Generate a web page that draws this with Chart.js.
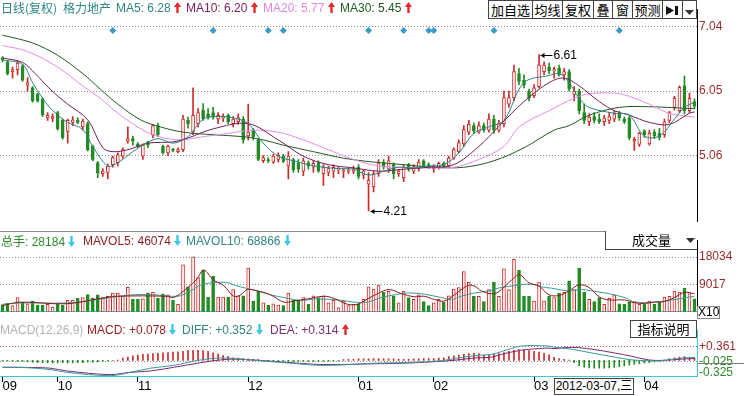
<!DOCTYPE html>
<html>
<head>
<meta charset="utf-8">
<script src="https://cdn.jsdelivr.net/npm/chart.js@4.4.1/dist/chart.umd.min.js"></script>
<style>
  body { margin: 0; width: 744px; height: 396px; position: relative; overflow: hidden; background: #fff;
         font-family: "Liberation Sans", Arial, "Noto Sans CJK SC", sans-serif; }
  canvas { position: absolute; left: 0; }
  .t { position: absolute; white-space: nowrap; font-size: 12px; line-height: 16px; }
  .cjk { font-family: "Noto Sans CJK SC", sans-serif; }
  .box { position: absolute; box-sizing: border-box; border: 1px solid #444; background: #fff;
         font-family: "Noto Sans CJK SC", sans-serif; font-size: 13px; text-align: center; color: #000; }
  .line { position: absolute; }
  svg { vertical-align: -1px; }
</style>
</head>
<body>
<canvas id="priceChart" width="744" height="231" style="top:0"></canvas>
<canvas id="volChart" width="744" height="90" style="top:231px"></canvas>
<canvas id="macdChart" width="744" height="75" style="top:321px"></canvas>

<!-- separators -->
<div class="line" style="left:0;top:231px;width:697px;height:1px;background:#8a8a8a"></div>
<div class="line" style="left:697px;top:363px;width:47px;height:1px;background:#777"></div>

<!-- main header -->
<div class="t" style="left:1px;top:0;color:#2f8585"><span class="cjk">日线(复权)</span></div>
<div class="t cjk" style="left:63px;top:0;color:#2f8585">格力地产</div>
<div class="t" style="left:116px;top:0;color:#2f8585">MA5: 6.28 <svg width="7" height="11"><path d="M3.5 0L7 5H4.7V11H2.3V5H0Z" fill="#e8262b"/></svg></div>
<div class="t" style="left:186px;top:0;color:#7a2060">MA10: 6.20 <svg width="7" height="11"><path d="M3.5 0L7 5H4.7V11H2.3V5H0Z" fill="#e8262b"/></svg></div>
<div class="t" style="left:263px;top:0;color:#e088e0">MA20: 5.77 <svg width="7" height="11"><path d="M3.5 0L7 5H4.7V11H2.3V5H0Z" fill="#e8262b"/></svg></div>
<div class="t" style="left:340px;top:0;color:#1f5a1f">MA30: 5.45 <svg width="7" height="11"><path d="M3.5 0L7 5H4.7V11H2.3V5H0Z" fill="#e8262b"/></svg></div>

<!-- toolbar -->
<div class="box" style="left:488px;top:0;width:45px;height:19px;line-height:17px">加自选</div>
<div class="box" style="left:532px;top:0;width:31px;height:19px;line-height:17px">均线</div>
<div class="box" style="left:562px;top:0;width:32px;height:19px;line-height:17px">复权</div>
<div class="box" style="left:593px;top:0;width:20px;height:19px;line-height:17px">叠</div>
<div class="box" style="left:612px;top:0;width:21px;height:19px;line-height:17px">窗</div>
<div class="box" style="left:632px;top:0;width:31px;height:19px;line-height:17px">预测</div>
<div class="box" style="left:662px;top:0;width:21px;height:19px;line-height:17px"><svg width="13" height="11" style="vertical-align:-1px"><path d="M0 1L8 5.5L0 10Z" fill="#111"/><rect x="3" y="3.5" width="2" height="4" fill="#111"/><rect x="9" y="1" width="3" height="9" fill="#111"/></svg></div>
<div class="box" style="left:682px;top:0;width:15px;height:19px;line-height:17px"><svg width="9" height="6"><path d="M0 0H9L4.5 5Z" fill="#333"/></svg></div>

<!-- volume header -->
<div class="t" style="left:1px;top:233px;color:#2a8a2a"><span class="cjk">总手</span>: 28184 <svg width="7" height="11"><path d="M3.5 11L7 6H4.7V0H2.3V6H0Z" fill="#3cc6e6"/></svg></div>
<div class="t" style="left:83px;top:233px;color:#8a1a1a">MAVOL5: 46074 <svg width="7" height="11"><path d="M3.5 11L7 6H4.7V0H2.3V6H0Z" fill="#3cc6e6"/></svg></div>
<div class="t" style="left:186px;top:233px;color:#2f8585">MAVOL10: 68866 <svg width="7" height="11"><path d="M3.5 11L7 6H4.7V0H2.3V6H0Z" fill="#3cc6e6"/></svg></div>
<div class="box" style="left:605px;top:231px;width:92px;height:19px;line-height:17px;border-top:none;border-right:none;text-align:left;padding-left:26px">成交量<svg width="9" height="6" style="position:absolute;left:80px;top:7px"><path d="M0 0H9L4.5 5Z" fill="#333"/></svg></div>
<div class="box" style="left:697px;top:306px;width:23px;height:13px;line-height:11px;font-family:'Liberation Sans';font-size:12px;border-color:#888">X10</div>

<!-- macd header -->
<div class="t" style="left:0;top:322px;color:#b4b4b4">MACD(12,26,9)</div>
<div class="t" style="left:87px;top:322px;color:#9a2020">MACD: +0.078 <svg width="7" height="11"><path d="M3.5 11L7 6H4.7V0H2.3V6H0Z" fill="#3cc6e6"/></svg></div>
<div class="t" style="left:182px;top:322px;color:#2f8585">DIFF: +0.352 <svg width="7" height="11"><path d="M3.5 11L7 6H4.7V0H2.3V6H0Z" fill="#3cc6e6"/></svg></div>
<div class="t" style="left:270px;top:322px;color:#7a3070">DEA: +0.314 <svg width="7" height="11"><path d="M3.5 0L7 5H4.7V11H2.3V5H0Z" fill="#e8262b"/></svg></div>
<div class="box" style="left:630px;top:320px;width:67px;height:18px;line-height:16px">指标说明</div>

<!-- crosshair date -->
<div class="box" style="left:554px;top:378px;width:80px;height:17px;line-height:15px;font-family:'Liberation Sans','Noto Sans CJK SC';font-size:12px">2012-03-07,三</div>

<script>
// daily candles, 2011-09 .. 2012-04
const opens  = [6.56,6.50,6.35,6.38,6.43,6.14,6.10,6.00,5.93,5.64,5.63,5.72,5.60,5.43,5.57,5.60,5.50,5.55,5.20,4.95,
                4.78,4.80,4.92,4.95,5.05,5.28,5.32,5.24,5.05,5.27,5.38,5.52,5.20,5.10,5.15,5.12,5.15,5.60,5.42,5.55,
                5.76,5.70,5.72,5.62,5.64,5.68,5.55,5.58,5.62,5.36,5.45,5.30,4.98,5.00,4.96,5.00,5.05,4.90,5.00,4.95,
                4.82,4.95,4.88,4.95,4.78,4.80,4.82,4.84,4.82,4.82,4.82,4.88,4.76,4.62,4.58,4.78,4.96,4.85,4.92,4.78,
                4.72,4.92,4.82,4.86,4.98,4.92,4.86,4.88,4.94,4.90,5.02,5.12,5.24,5.42,5.52,5.42,5.52,5.45,5.62,5.45,
                5.55,5.85,5.95,6.32,6.22,6.05,5.98,6.12,6.35,6.42,6.36,6.40,6.30,6.35,6.00,6.05,5.72,5.58,5.66,5.62,
                5.58,5.60,5.62,5.70,5.62,5.64,5.28,5.23,5.44,5.24,5.42,5.40,5.38,5.60,5.80,5.75,6.13,5.75,5.89];
const highs  = [6.58,6.52,6.42,6.52,6.46,6.26,6.12,6.02,5.95,5.72,5.70,5.74,5.62,5.62,5.66,5.64,5.62,5.58,5.22,4.97,
                4.86,4.93,5.05,5.10,5.18,5.50,5.36,5.26,5.24,5.28,5.54,5.56,5.22,5.22,5.17,5.18,5.68,5.65,6.10,5.78,
                5.86,5.78,5.80,5.72,5.70,5.70,5.66,5.70,5.66,5.85,5.48,5.32,5.06,5.03,5.08,5.10,5.08,5.12,5.02,5.00,
                5.02,4.98,4.98,4.98,4.92,4.90,4.92,4.88,4.86,4.86,4.90,4.92,4.84,4.80,4.82,5.00,5.00,5.05,4.95,4.85,
                4.92,4.94,4.92,5.00,5.00,4.95,4.92,4.96,4.96,5.05,5.18,5.30,5.52,5.60,5.56,5.58,5.56,5.70,5.68,5.60,
                6.05,6.05,6.45,6.40,6.30,6.08,6.15,6.61,6.50,6.48,6.42,6.45,6.40,6.38,6.12,6.08,5.85,5.70,5.72,5.70,
                5.68,5.72,5.75,5.74,5.65,5.66,5.34,5.42,5.46,5.45,5.46,5.48,5.62,5.74,5.97,6.13,6.28,6.02,5.93];
const lows   = [6.50,6.30,6.25,6.30,6.20,6.05,5.88,5.88,5.66,5.60,5.58,5.45,5.31,5.25,5.52,5.55,5.45,5.13,4.98,4.72,
                4.74,4.70,4.88,4.90,5.02,5.25,5.22,5.18,5.00,5.18,5.33,5.35,5.08,5.06,5.12,5.10,5.12,5.48,5.38,5.50,
                5.60,5.62,5.62,5.55,5.58,5.55,5.50,5.54,5.25,5.30,5.30,4.98,4.95,4.95,4.94,4.96,4.95,4.70,4.80,4.80,
                4.75,4.85,4.80,4.80,4.60,4.75,4.72,4.78,4.72,4.78,4.78,4.70,4.70,4.21,4.50,4.74,4.85,4.80,4.70,4.74,
                4.66,4.82,4.78,4.82,4.88,4.86,4.80,4.85,4.88,4.88,5.00,5.10,5.20,5.38,5.40,5.40,5.42,5.42,5.40,5.42,
                5.50,5.80,5.90,6.15,6.10,5.90,5.95,6.10,6.30,6.32,6.25,6.28,6.22,6.05,5.90,5.70,5.55,5.52,5.56,5.55,
                5.52,5.55,5.58,5.60,5.55,5.30,5.14,5.20,5.34,5.22,5.32,5.30,5.34,5.56,5.76,5.72,5.70,5.72,5.78];
const closes = [6.53,6.32,6.38,6.48,6.22,6.18,5.90,5.90,5.68,5.68,5.66,5.47,5.33,5.60,5.61,5.57,5.59,5.15,5.00,4.79,
                4.82,4.90,5.03,5.07,5.15,5.32,5.28,5.20,5.22,5.22,5.52,5.38,5.10,5.20,5.14,5.15,5.62,5.55,5.68,5.72,
                5.62,5.64,5.65,5.68,5.66,5.58,5.62,5.64,5.30,5.42,5.35,5.00,5.03,4.98,5.05,5.06,4.97,5.05,4.84,4.85,
                4.98,4.90,4.94,4.82,4.88,4.86,4.88,4.85,4.84,4.84,4.86,4.74,4.82,4.68,4.78,4.95,4.88,4.98,4.78,4.82,
                4.88,4.85,4.89,4.96,4.90,4.88,4.90,4.94,4.90,5.02,5.15,5.26,5.46,5.54,5.44,5.52,5.45,5.62,5.45,5.55,
                5.95,5.95,6.35,6.20,6.14,5.95,6.10,6.45,6.45,6.36,6.38,6.30,6.35,6.08,6.05,5.75,5.60,5.65,5.60,5.58,
                5.64,5.66,5.70,5.64,5.58,5.33,5.31,5.40,5.38,5.40,5.36,5.34,5.58,5.72,5.94,6.11,5.75,5.94,5.82];
// volume in units of 10 hands
const volumes = [2390,2830,2040,4690,3100,2650,3540,2210,2210,2480,1590,2480,2210,3800,3800,4420,4690,5660,4500,5570,
                 4690,5130,6190,6190,5130,8040,4070,4070,4240,6280,6450,4420,5830,5570,3800,2480,15470,8220,18110,11310,
                 13790,4860,11750,4860,4860,4860,7340,5300,5300,14400,3540,6720,2920,2210,2650,2210,2030,6190,3800,3800,
                 4690,2480,5300,4690,5300,2920,3800,1410,3540,2030,2480,2650,4070,8220,7510,8840,6450,6720,5300,2920,
                 6720,4690,4070,5570,3360,2030,2920,4070,3180,5300,7510,7960,13260,9720,5130,5130,3360,7340,9720,5130,
                 14150,7340,17330,13790,5130,5130,3540,9810,3540,5130,4690,6190,6450,10170,7340,14410,6450,4070,3360,4690,
                 2480,4420,5570,2650,2480,3180,3360,2480,2480,3540,2480,3100,4860,5130,6720,6450,7780,6010,4240];

// moving averages: [candle index, value]
const ma5  = [[0,6.53],[4,6.46],[6,6.18],[8,5.94],[10,5.75],[13,5.57],[16,5.46],[18,5.2],[21,4.9],[23,4.95],
              [26,5.12],[28,5.22],[31,5.32],[34,5.25],[37,5.35],[40,5.62],[43,5.66],[46,5.64],[49,5.55],[52,5.25],
              [55,5.05],[58,4.98],[61,4.92],[64,4.88],[67,4.86],[70,4.85],[73,4.76],[76,4.82],[79,4.88],[82,4.87],
              [85,4.9],[88,4.92],[91,5.1],[94,5.4],[97,5.5],[100,5.6],[104,6.18],[109,6.29],[111,6.32],[113,6.18],
              [115,5.94],[117,5.8],[122,5.71],[125,5.68],[128,5.36],[131,5.36],[134,5.62],[136,5.8],[138,5.88]];
const ma10 = [[0,6.56],[4,6.49],[6.5,6.32],[9.5,6.08],[13,5.85],[17,5.61],[20,5.18],[22,5.12],[25,5.15],[29,5.25],
              [34,5.27],[37,5.33],[42,5.47],[49,5.55],[55,5.3],[60,5.05],[65,4.92],[70,4.87],[75,4.82],[80,4.85],
              [85,4.88],[90,4.92],[95,5.2],[99,5.51],[104,5.89],[109,6.18],[112,6.25],[115,6.13],[119,5.89],
              [122,5.75],[125,5.68],[129,5.57],[133,5.54],[137,5.71],[138,5.73]];
const ma20 = [[0,6.75],[5,6.66],[11,6.42],[16,6.13],[19.5,5.94],[23,5.71],[27,5.5],[30,5.38],[35,5.3],[40,5.35],
              [45,5.4],[50,5.45],[55,5.42],[60,5.3],[65,5.15],[70,5.0],[75,4.9],[80,4.88],[85,4.87],[90,4.88],
              [95,5.0],[100,5.2],[103,5.5],[109,5.75],[114,5.94],[117,6.01],[122,6.02],[125,5.97],[129,5.85],
              [133,5.71],[138,5.65]];
const ma30 = [[0,6.91],[6,6.79],[11,6.6],[16,6.32],[19.5,6.08],[23,5.85],[27.5,5.61],[31.5,5.5],[36,5.42],[42,5.38],
              [48,5.35],[52,5.3],[56,5.22],[62,5.12],[68,5.02],[74,4.96],[80,4.92],[86,4.88],[92,4.88],[98,4.98],
              [104,5.18],[110,5.45],[113,5.52],[117,5.68],[123,5.8],[129,5.81],[138,5.78]];
const volMa5  = [[0,2030],[3.5,3180],[12.8,2650],[19.5,4420],[22.8,5130],[32.8,5130],[34.1,4690],[36.8,7780],
                 [38.8,10870],[40.1,13790],[42.1,10430],[44.1,8660],[46.1,5130],[47.5,5570],[48.8,7340],[50.8,6900],
                 [53.5,5570],[56.1,3180],[58.1,3540],[60.8,4240],[64.1,5130],[66.1,4420],[68.8,2480],[70.8,2480],
                 [72.8,4240],[74.8,6010],[77.1,7340],[79.5,6010],[82.1,4950],[84.1,5130],[86.1,4070],[88.1,3540],
                 [90.1,5570],[92.8,8660],[94.1,8490],[95.5,6900],[97.1,6010],[98.8,6450],[101.5,10430],[103.1,12200],
                 [105,9550],[107,8500],[109,5570],[111,5400],[113,6900],[115,8900],[117,8000],[119,4900],[121,3900],
                 [124,3900],[126,3000],[128,2750],[130,3200],[132,3400],[134,4700],[136,6400],[138,6000]];
const volMa10 = [[0,2470],[3.5,2920],[12.8,2920],[18,3800],[25,5480],[30,5660],[35,5130],[37.5,6900],[40,9100],
                 [44.5,9720],[46.5,8660],[48.5,7780],[50.8,6900],[53.5,5570],[56.1,4690],[59.5,3800],[62.8,4240],
                 [67.5,3800],[70.1,3180],[72.8,3180],[75.5,4690],[78.1,5570],[80.8,6190],[84.1,5830],[87.5,4690],
                 [89.5,4070],[91.5,5130],[94.1,6190],[97.1,6900],[98.8,7780],[102.1,8660],[105.5,9100],[107.5,8220],
                 [109.5,7780],[112.8,6900],[115.5,7340],[117.5,6900],[120.8,6010],[124.1,4690],[126.1,3180],
                 [130.1,3180],[132.1,3540],[134.8,4240],[138,5130]];
const diffLine = [[0,-0.185],[3.5,-0.185],[9.5,-0.244],[12.8,-0.318],[21.5,-0.407],[25.5,-0.318],[29.5,-0.207],
                  [34.1,-0.133],[39.5,0.014],[43.5,0.066],[46.1,0.051],[49.5,0.014],[51.5,-0.008],[57.5,-0.074],
                  [64.1,-0.133],[74.1,-0.075],[80.8,-0.055],[87.5,-0.008],[90.8,0.066],[94.1,0.125],[97.5,0.162],
                  [99.5,0.236],[103.5,0.384],[108.8,0.384],[110,0.352],[113.5,0.3],[117.5,0.199],[122.1,0.088],
                  [125.5,0.014],[128.8,-0.008],[131.5,-0.008],[135.5,0.066],[138,0.08]];
const deaLine  = [[0,-0.185],[3.5,-0.185],[9.5,-0.207],[12.8,-0.281],[21.5,-0.378],[25.5,-0.318],[29.5,-0.281],
                  [34.1,-0.185],[39.5,-0.06],[43.5,0.014],[46.1,0.036],[49.5,0.014],[51.5,0],[57.5,-0.06],
                  [64.1,-0.111],[74.1,-0.09],[80.8,-0.07],[87.5,-0.022],[90.8,0.014],[94.1,0.066],[97.5,0.088],
                  [99.5,0.162],[103.5,0.273],[108.8,0.33],[110,0.314],[113.5,0.35],[117.5,0.3],[122.1,0.199],
                  [125.5,0.11],[128.8,0.014],[131.5,0],[135.5,0.036],[138,0.051]];
const macdHist = [-0.01,-0.01,-0.02,-0.03,-0.03,-0.04,-0.05,-0.06,-0.06,-0.07,-0.07,-0.07,-0.06,-0.07,-0.07,-0.06,-0.06,-0.05,-0.05,-0.04,
                  -0.02,-0.01,0.0,0.01,0.06,0.09,0.12,0.14,0.16,0.17,0.18,0.19,0.2,0.21,0.22,0.23,0.24,0.26,0.27,0.27,
                  0.26,0.24,0.2,0.17,0.13,0.1,0.07,0.06,0.05,0.04,0.03,0.02,-0.01,-0.02,-0.02,-0.02,-0.02,-0.03,-0.03,-0.03,
                  -0.03,-0.03,-0.03,-0.03,-0.02,-0.02,-0.01,-0.01,0.02,0.03,0.03,0.04,0.04,0.04,0.05,0.05,0.04,0.04,0.04,0.03,
                  0.03,0.03,0.04,0.04,0.05,0.05,0.05,0.06,0.07,0.1,0.12,0.14,0.16,0.18,0.19,0.18,0.14,0.15,0.16,0.18,
                  0.21,0.24,0.27,0.29,0.28,0.26,0.24,0.22,0.19,0.15,0.08,0.05,0.03,0.01,-0.06,-0.14,-0.18,-0.2,-0.21,-0.21,
                  -0.21,-0.2,-0.19,-0.17,-0.15,-0.13,-0.11,-0.09,-0.07,-0.06,-0.04,-0.02,0.01,0.05,0.07,0.09,0.1,0.08,0.07];

const monthLabels = ['09', '10', '11', '12', '01', '02', '03', '04'];
const monthStart  = [0, 11, 27, 49, 71, 86, 106, 128];
const signalIdx   = [22, 42, 53, 56, 73, 80, 85, 86, 98, 123];
const priceTicks  = [5.06, 6.05, 7.04];
const volTicks    = [9017, 18034];
const macdTicks   = [0.361, -0.025, -0.325];

const RED = '#cc2a2a', GREEN = '#238b23';
const n = closes.length;
const idx = [...Array(n).keys()];
const isUp = idx.map(i => closes[i] >= opens[i]);
const pts = arr => arr.map(([x, y]) => ({x, y}));

const xScale = { type: 'linear', offset: false, min: -0.5, max: n - 0.5, display: false };
const rightAxis = (min, max, ticks, fmt, extra) => Object.assign({
  position: 'right', min, max,
  afterFit: s => { s.width = 47; },
  afterBuildTicks: s => { s.ticks = ticks.map(v => ({value: v})); },
  ticks: { color: '#9b2b2b', font: {size: 12, family: 'Liberation Sans'}, padding: 2, callback: fmt },
  grid: { color: '#8c8c8c', drawTicks: false },
  border: { color: '#000', dash: [1, 2] }
}, extra || {});

const lineDs = (data, color, yAxis) => ({
  type: 'line', data: pts(data), borderColor: color, borderWidth: 1, pointRadius: 0,
  tension: 0.35, order: 0, yAxisID: yAxis || 'y'
});

Chart.defaults.animation = false;
Chart.defaults.layout.autoPadding = false;
Chart.defaults.plugins.legend.display = false;
Chart.defaults.plugins.tooltip.enabled = false;
Chart.defaults.responsive = false;

// high / low markers
const extremes = {
  id: 'extremes',
  afterDatasetsDraw(chart) {
    const {ctx, scales: {x, y}} = chart;
    const hi = highs.indexOf(Math.max(...highs));
    const lo = lows.indexOf(Math.min(...lows));
    ctx.save();
    ctx.fillStyle = '#000'; ctx.strokeStyle = '#000'; ctx.lineWidth = 1;
    ctx.font = '12px "Liberation Sans"'; ctx.textBaseline = 'middle';
    [[hi, highs[hi]], [lo, lows[lo]]].forEach(([i, v]) => {
      const px = Math.round(x.getPixelForValue(i)) + 0.5, py = Math.round(y.getPixelForValue(v)) + 0.5;
      ctx.beginPath(); ctx.moveTo(px + 1, py); ctx.lineTo(px + 13, py); ctx.stroke();
      ctx.beginPath(); ctx.moveTo(px + 1, py); ctx.lineTo(px + 5, py - 2.5); ctx.lineTo(px + 5, py + 2.5); ctx.fill();
      ctx.fillText(v.toFixed(2), px + 14, py);
    });
    ctx.restore();
  }
};

new Chart(document.getElementById('priceChart'), {
  type: 'bar',
  data: {
    datasets: [
      lineDs(ma5, '#2a8484'),
      lineDs(ma10, '#6e1f58'),
      lineDs(ma20, '#e48ce4'),
      lineDs(ma30, '#1f5a1f'),
      { type: 'line', data: signalIdx.map(i => ({x: i, y: 6.98})), showLine: false, pointStyle: 'rectRot',
        pointRadius: 3.5, pointBackgroundColor: '#3a9cc6', pointBorderWidth: 0, order: 0 },
      { data: idx.map(i => ({x: i, y: [opens[i], closes[i]]})), grouped: false, barThickness: 3, minBarLength: 1,
        backgroundColor: isUp.map(u => u ? '#fff' : GREEN), borderColor: isUp.map(u => u ? RED : GREEN),
        borderWidth: 1, borderSkipped: false, order: 1 },
      { data: idx.map(i => ({x: i, y: [lows[i], highs[i]]})), grouped: false, barThickness: 1,
        backgroundColor: isUp.map(u => u ? RED : GREEN), order: 2 }
    ]
  },
  options: {
    layout: { padding: 0 },
    scales: {
      x: xScale,
      y: rightAxis(4.042, 7.309, priceTicks, v => v.toFixed(2))
    }
  },
  plugins: [extremes]
});

new Chart(document.getElementById('volChart'), {
  type: 'bar',
  data: {
    datasets: [
      lineDs(volMa5, '#8a1a1a'),
      lineDs(volMa10, '#3a9898'),
      { data: idx.map(i => ({x: i, y: volumes[i]})), grouped: false, barThickness: 3,
        backgroundColor: isUp.map(u => u ? '#fff' : GREEN), borderColor: isUp.map(u => u ? RED : GREEN),
        borderWidth: 1, borderSkipped: false, order: 1 }
    ]
  },
  options: {
    scales: {
      x: { type: 'linear', offset: false, min: -0.5, max: n - 0.5, afterFit: s => { s.height = 1; },
           ticks: { display: false }, grid: { display: false }, border: { color: '#3cc6d6' } },
      y: rightAxis(0, 23604, volTicks, v => String(v))
    }
  }
});

new Chart(document.getElementById('macdChart'), {
  type: 'bar',
  data: {
    datasets: [
      lineDs(diffLine, '#3a9898'),
      lineDs(deaLine, '#7a2a78'),
      { data: idx.map(i => ({x: i, y: macdHist[i]})), grouped: false, barThickness: 1,
        backgroundColor: macdHist.map(v => v >= 0 ? RED : GREEN), order: 1 }
    ]
  },
  options: {
    scales: {
      x: { type: 'linear', offset: false, min: -0.5, max: n - 0.5, afterFit: s => { s.height = 20; },
           afterBuildTicks: s => { s.ticks = monthStart.map(v => ({value: v})); },
           ticks: { align: 'start', padding: -3, color: '#000', font: {size: 13, family: 'Liberation Sans'},
                    maxRotation: 0, autoSkip: false, callback: v => monthLabels[monthStart.indexOf(v)] },
           grid: { drawOnChartArea: false, offset: false, tickLength: 6, tickColor: '#000' },
           border: { color: '#3cc6d6' } },
      y: rightAxis(-0.416, 0.807, macdTicks, v => (v > 0 ? '+' : '') + v.toFixed(3), {
        ticks: { font: {size: 12, family: 'Liberation Sans'}, padding: 2,
                 color: c => c.tick && c.tick.value > 0 ? '#9b2b2b' : '#2a8a2a',
                 callback: v => (v > 0 ? '+' : '') + v.toFixed(3) },
        grid: { drawTicks: false,
                color: c => !c.tick ? '#8c8c8c' : c.tick.value > 0 ? '#b06060' : c.tick.value < -0.1 ? 'transparent' : '#8c8c8c' },
        border: { color: '#3cc6d6', dash: [1, 2] }
      })
    }
  }
});
</script>
</body>
</html>
